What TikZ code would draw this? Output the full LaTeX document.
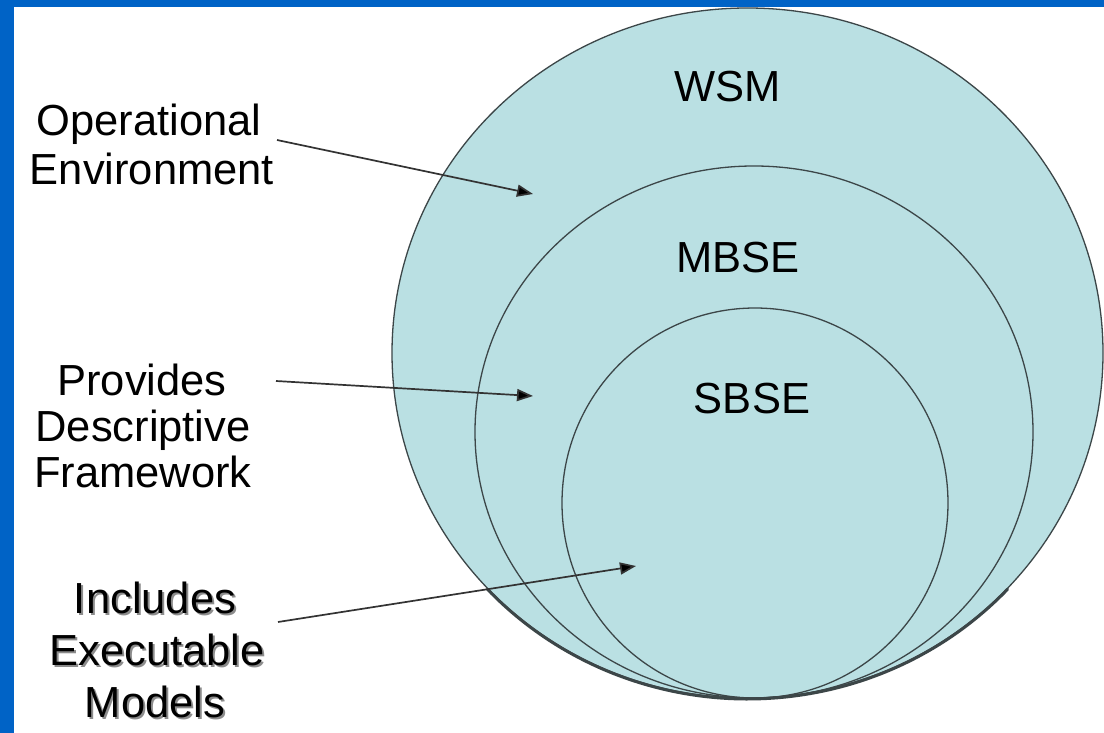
\documentclass[tikz,border=0pt]{standalone}
\usepackage{fontspec}
\setmainfont{Liberation Sans}
\usetikzlibrary{arrows.meta}
\definecolor{frameblue}{RGB}{0,99,198}
\definecolor{disc}{RGB}{186,224,227}
\definecolor{rim}{RGB}{60,70,72}
\begin{document}
\begin{tikzpicture}[x=1pt,y=-1pt,
  lbl/.style={font=\fontsize{43.5}{48}\selectfont, inner sep=0pt, anchor=base},
  lblshadow/.style={lbl, text=black!45},
  ring/.style={draw=rim, line width=1.3pt},
  pointer/.style={draw=black!80, line width=1.7pt, -{Triangle[length=16pt,width=12pt,fill=black]}}]
\useasboundingbox (0,0) rectangle (1104,733);
\fill[white] (0,0) rectangle (1104,733);
% circles
\fill[disc] (747.5,353) ellipse [x radius=355.5pt, y radius=345pt];
\draw[ring] (747.5,353) ellipse [x radius=355.5pt, y radius=345pt];
\draw[rim, line width=3pt, line cap=round] ({747.5+355.5*cos(223)},{353-345*sin(223)+1}) arc [start angle=223, end angle=317, x radius=355.5pt, y radius=345pt];
\draw[ring] (754,432) ellipse [x radius=279pt, y radius=266pt];
\draw[ring] (755,503) ellipse [x radius=193pt, y radius=195pt];
% frame
\fill[frameblue] (0,0) rectangle (1104,7);
\fill[frameblue] (0,0) rectangle (14,733);
% circle labels
\node[lbl] (wsm) at (728,102) {WSM};
\node[lbl] (mbse) at (738,272) {MBSE};
\node[lbl] (sbse) at (752,413) {SBSE};
% side labels
\node[lbl] (op1) at (149,136) {Operational};
\node[lbl] (op2) at (152,185) {Environment};
\node[lbl] (pr1) at (142,395) {Provides};
\node[lbl] (pr2) at (143,441) {Descriptive};
\node[lbl] (pr3) at (143,487) {Framework};
\node[lblshadow] (in1s) at (157,615) {Includes};
\node[lblshadow] (in2s) at (159,667) {Executable};
\node[lblshadow] (in3s) at (157,719) {Models};
\node[lbl] (in1) at (155,613) {Includes};
\node[lbl] (in2) at (157,665) {Executable};
\node[lbl] (in3) at (155,717) {Models};
% pointers
\coordinate (opA) at (277,140);
\coordinate (opB) at (533,194);
\coordinate (prA) at (276,381);
\coordinate (prB) at (533,396);
\coordinate (inA) at (278,622);
\coordinate (inB) at (636,566);
\draw[pointer] (opA) -- (opB);
\draw[pointer] (prA) -- (prB);
\draw[pointer] (inA) -- (inB);
\end{tikzpicture}
\end{document}
